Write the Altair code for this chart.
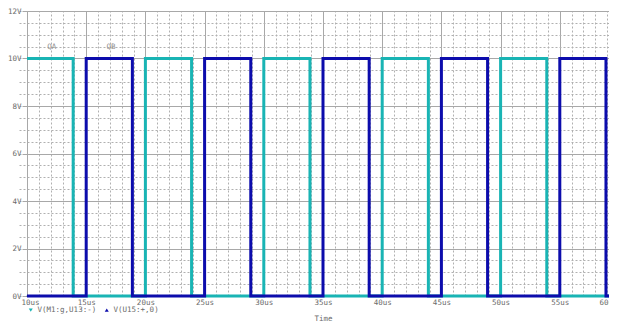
import altair as alt
import pandas as pd

# ---- data ----
series_names = ["V(M1:g,U13:-)", "V(U15:+,0)"]
series_colors = ["#19b4b4", "#0c0cac"]
series_shapes = ["triangle-down", "triangle-up"]

high_level = 10.0
t_start, t_end = 10.0, 60.0

cyan_rise = [10, 20, 30, 40, 50]
cyan_fall = [13.9, 23.9, 33.9, 43.9, 53.9]
blue_rise = [15, 25, 35, 45, 55]
blue_fall = [18.9, 28.9, 38.9, 48.9, 58.9]

x_major = [10, 15, 20, 25, 30, 35, 40, 45, 50, 55, 60]
x_minor = list(range(10, 61))
y_major = [0, 2, 4, 6, 8, 10, 12]
y_minor = [i * 0.5 for i in range(25)]

trace_labels = ["QA", "QB"]
trace_label_t = [12.1, 17.1]
trace_label_v = [10.5, 10.5]


def build(rises, falls, name):
    pts = []
    if rises[0] > t_start:
        pts.append((t_start, 0.0))
    for r, f in zip(rises, falls):
        if r > t_start:
            pts.append((r, 0.0))
        pts.append((r, high_level))
        pts.append((f, high_level))
        pts.append((f, 0.0))
    pts.append((t_end, 0.0))
    return pd.DataFrame({"t": [p[0] for p in pts], "v": [p[1] for p in pts],
                         "i": list(range(len(pts))), "series": name})


df_c = build(cyan_rise, cyan_fall, series_names[0])
df_b = build(blue_rise, blue_fall, series_names[1])
df_lab = pd.DataFrame({"t": trace_label_t, "v": trace_label_v, "txt": trace_labels})
df_leg = pd.DataFrame({"t": [t_start, t_start], "v": [0.0, 0.0], "series": series_names})

FONT = "DejaVu Sans Mono"
GRAY = "#6a6a6a"
GRID = "#a8a8a8"
MINOR = "#b0b0b0"

W, H = 582, 285
X_RANGE = 592

xs = alt.Scale(domain=[t_start, t_end], range=[0, X_RANGE], nice=False, zero=False)
ys = alt.Scale(domain=[0, 12], nice=False, zero=False)
cs = alt.Scale(domain=series_names, range=series_colors)
ss = alt.Scale(domain=series_names, range=series_shapes)

minor_x = alt.Axis(orient="top", values=x_minor, grid=True, gridColor=MINOR, gridDash=[2, 2],
                   gridWidth=1, labels=False, ticks=False, domain=False, title=None)
minor_y = alt.Axis(orient="right", values=y_minor, grid=True, gridColor=MINOR, gridDash=[2, 2],
                   gridWidth=1, labels=False, ticks=False, domain=False, title=None)

major_x = alt.Axis(orient="bottom", values=x_major, grid=True, gridColor=GRID, gridWidth=1,
                   labelExpr="datum.value + 'us'",
                   labelOffset=alt.ExprRef("datum.value == 60 ? -11 : (datum.value == 10 ? 3 : 0)"),
                   labelFont=FONT, labelFontSize=7.5, labelColor=GRAY, labelBaseline="top",
                   labelPadding=2, ticks=False, domain=False, labelFlush=False, labelOverlap=False,
                   title="Time", titleFont=FONT, titleFontSize=7.5, titleColor=GRAY, titleFontWeight="normal",
                   titleX=X_RANGE / 2, titleY=22, titleBaseline="middle", titleAlign="center")
major_y = alt.Axis(orient="left", values=y_major, grid=True, gridColor=GRID, gridWidth=1,
                   labelExpr="datum.value + 'V'", labelFont=FONT, labelFontSize=7.5, labelColor=GRAY,
                   labelPadding=1, ticks=True, tickSize=5, tickColor=GRID, domain=False,
                   labelFlush=False, labelOverlap=False, title=None)

leg = alt.Legend(orient="none", legendX=0, legendY=295, direction="horizontal", title=None,
                 labelFont=FONT, labelFontSize=7.5, labelColor=GRAY, symbolSize=16,
                 symbolOpacity=1, symbolStrokeWidth=0, columnPadding=6, labelOffset=3,
                 padding=0, offset=0)

legend_pts = alt.Chart(df_leg).mark_point(filled=True, size=1).encode(
    x=alt.X("t:Q", scale=xs, axis=None),
    y=alt.Y("v:Q", scale=ys, axis=None),
    color=alt.Color("series:N", scale=cs, legend=leg),
    shape=alt.Shape("series:N", scale=ss, legend=leg),
)

cyan = alt.Chart(df_c).mark_line(strokeWidth=3, strokeCap="butt", strokeJoin="miter").encode(
    x=alt.X("t:Q", scale=xs, axis=minor_x),
    y=alt.Y("v:Q", scale=ys, axis=minor_y),
    order="i:Q",
    color=alt.Color("series:N", scale=cs, legend=leg),
)

blue = alt.Chart(df_b).mark_line(strokeWidth=3, strokeCap="butt", strokeJoin="miter").encode(
    x=alt.X("t:Q", scale=xs, axis=major_x),
    y=alt.Y("v:Q", scale=ys, axis=major_y),
    order="i:Q",
    color=alt.Color("series:N", scale=cs, legend=leg),
)

labels = alt.Chart(df_lab).mark_text(font=FONT, fontSize=7.5, color="#909090").encode(
    x=alt.X("t:Q", scale=xs, axis=None),
    y=alt.Y("v:Q", scale=ys, axis=None),
    text="txt:N",
)

chart = alt.layer(legend_pts, cyan, blue, labels).resolve_axis(
    x="independent", y="independent"
).properties(
    width=W, height=H,
    autosize=alt.AutoSizeParams(type="none"),
    padding={"left": 19, "top": 3, "right": 0, "bottom": 25},
).configure_view(stroke=None).configure(background="white")

chart.save("out.html", embed_options={"renderer": "svg", "actions": False})
